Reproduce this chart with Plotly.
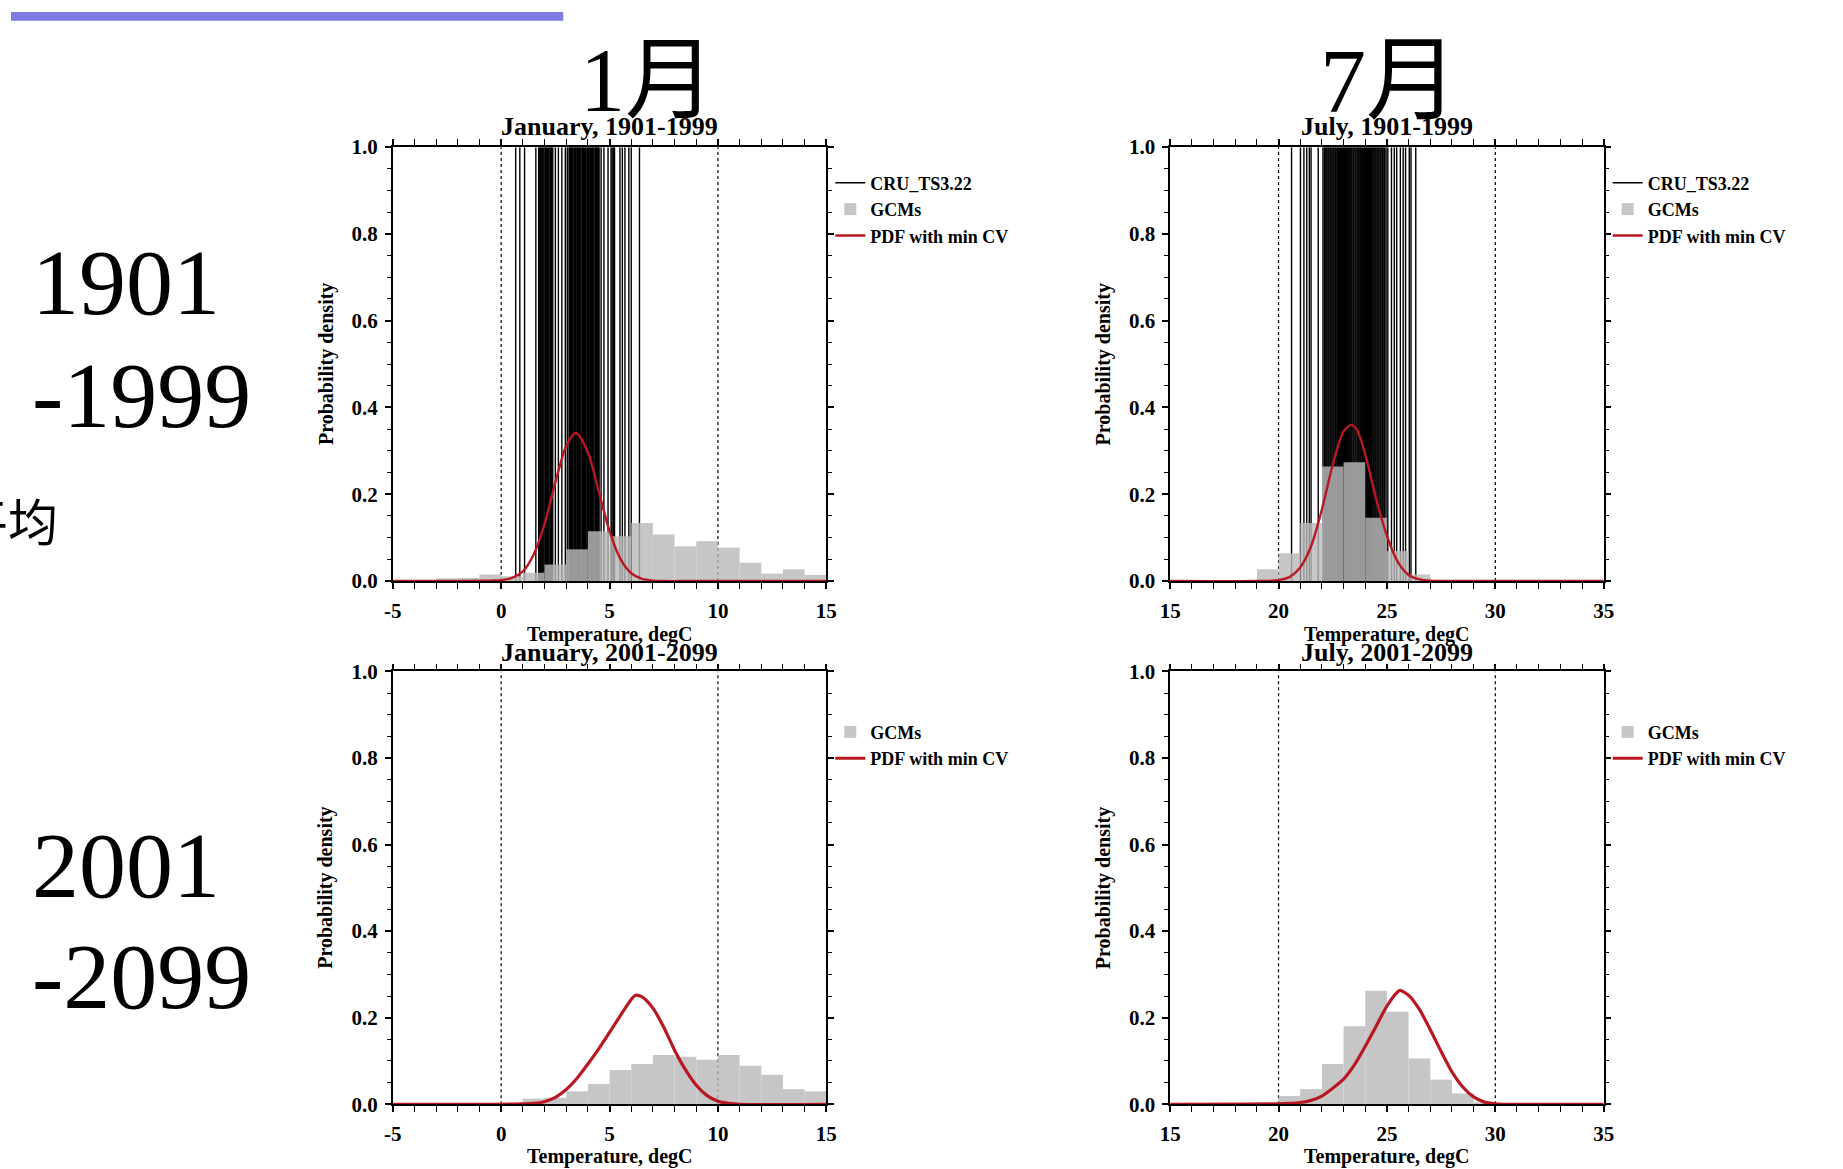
import plotly.graph_objects as go

W, H = 1843, 1169
# the page is captured with an 8 px outer margin and then scaled back to the window size
SX, SY = W / (W + 16), H / (H + 16)

# ---------------- data ----------------
jan_bin_left = [-5, -4, -3, -2, -1, 0, 1, 2, 3, 4, 5, 6, 7, 8, 9, 10, 11, 12, 13, 14]
jan_1901_gcm = [0.002, 0.002, 0.006, 0.007, 0.015, 0.011, 0.019, 0.038, 0.073, 0.115,
                0.103, 0.134, 0.107, 0.080, 0.092, 0.077, 0.042, 0.017, 0.027, 0.014]
jan_2001_gcm = [0.0, 0.0, 0.0, 0.0, 0.001, 0.002, 0.013, 0.015, 0.030, 0.047,
                0.079, 0.093, 0.114, 0.110, 0.103, 0.114, 0.089, 0.068, 0.035, 0.030]

jul_bin_left = [15, 16, 17, 18, 19, 20, 21, 22, 23, 24, 25, 26, 27, 28, 29, 30, 31, 32, 33, 34]
jul_1901_gcm = [0.0, 0.0, 0.0, 0.0, 0.027, 0.064, 0.134, 0.264, 0.274, 0.146,
                0.069, 0.015, 0.0, 0.0, 0.0, 0.0, 0.0, 0.0, 0.0, 0.0]
jul_2001_gcm = [0.0, 0.0, 0.0, 0.0, 0.0, 0.019, 0.035, 0.093, 0.180, 0.262,
                0.214, 0.106, 0.057, 0.025, 0.003, 0.0, 0.0, 0.0, 0.0, 0.0]

jan_1901_cru = [0.67, 0.86, 1.08, 1.60, 1.73, 1.78, 1.81, 1.85, 1.90, 1.93, 1.97, 2.02, 2.05,
                2.09, 2.14, 2.17, 2.21, 2.26, 2.29, 2.33, 2.38, 2.50, 2.64, 2.80, 2.96, 3.05,
                3.13, 3.16, 3.20, 3.25, 3.28, 3.32, 3.37, 3.40, 3.44, 3.49, 3.52, 3.56, 3.61,
                3.64, 3.68, 3.73, 3.76, 3.80, 3.85, 3.88, 3.92, 3.97, 4.00, 4.04, 4.09, 4.12,
                4.16, 4.21, 4.24, 4.28, 4.33, 4.36, 4.40, 4.45, 4.48, 4.52, 4.61, 4.74, 4.93,
                5.07, 5.12, 5.18, 5.23, 5.48, 5.59, 5.71, 5.89, 6.00, 6.38]
jul_1901_cru = [20.60, 21.01, 21.17, 21.30, 21.42, 21.50, 21.83, 22.05, 22.11, 22.15, 22.20,
                22.24, 22.29, 22.33, 22.38, 22.42, 22.46, 22.51, 22.55, 22.60, 22.64, 22.69,
                22.73, 22.77, 22.82, 22.86, 22.91, 22.95, 23.00, 23.04, 23.08, 23.13, 23.17,
                23.22, 23.26, 23.31, 23.35, 23.39, 23.44, 23.48, 23.53, 23.57, 23.62, 23.66,
                23.70, 23.75, 23.79, 23.84, 23.88, 23.93, 23.97, 24.01, 24.06, 24.10, 24.15,
                24.19, 24.24, 24.28, 24.32, 24.37, 24.41, 24.46, 24.50, 24.55, 24.59, 24.63,
                24.68, 24.72, 24.77, 24.81, 24.86, 24.90, 24.96, 25.04, 25.21, 25.34, 25.45,
                25.62, 25.75, 25.86, 26.03, 26.11, 26.33]

jan_1901_pdf_x = [-5, -2, -1, -0.5, 0, 0.5, 1, 1.5, 2, 2.5, 3, 3.45, 4, 4.5, 5, 5.5, 6, 6.5, 7, 7.5, 9, 15]
jan_1901_pdf_y = [0, 0, 0.0005, 0.001, 0.002, 0.007, 0.022, 0.061, 0.131, 0.227, 0.311, 0.341,
                  0.297, 0.207, 0.115, 0.051, 0.018, 0.005, 0.001, 0, 0, 0]
jul_1901_pdf_x = [15, 19, 20, 20.5, 21, 21.5, 22, 22.5, 23, 23.35, 23.6, 24, 24.5, 25, 25.5, 26, 26.5, 27, 28, 35]
jul_1901_pdf_y = [0, 0, 0.002, 0.009, 0.031, 0.080, 0.165, 0.268, 0.345, 0.360, 0.350, 0.292,
                  0.190, 0.104, 0.044, 0.014, 0.004, 0.001, 0, 0]
jan_2001_pdf_x = [-5, 0, 1, 1.5, 2, 2.5, 3, 3.5, 4, 4.5, 5, 5.5, 6, 6.2, 6.5, 7, 7.5, 8, 8.5,
                  9, 9.5, 10, 10.5, 11, 15]
jan_2001_pdf_y = [0, 0, 0.001, 0.002, 0.006, 0.016, 0.034, 0.060, 0.093, 0.128, 0.166, 0.205,
                  0.242, 0.252, 0.248, 0.222, 0.178, 0.125, 0.080, 0.044, 0.020, 0.007, 0.002, 0, 0]
jul_2001_pdf_x = [15, 20, 20.5, 21, 21.5, 22, 22.5, 23, 23.5, 24, 24.5, 25, 25.5, 25.6, 26,
                  26.5, 27, 27.5, 28, 28.5, 29, 29.5, 30, 30.5, 35]
jul_2001_pdf_y = [0, 0.001, 0.002, 0.004, 0.009, 0.019, 0.037, 0.058, 0.091, 0.134, 0.180,
                  0.227, 0.260, 0.263, 0.252, 0.219, 0.172, 0.122, 0.075, 0.040, 0.017, 0.005,
                  0.001, 0, 0]

jan_ref_lines = [0, 10]
jul_ref_lines = [20, 30]

jan_range = [-5, 15]
jul_range = [15, 35]
jan_tick_vals = [-5, 0, 5, 10, 15]
jan_tick_text = ["-5", "0", "5", "10", "15"]
jul_tick_vals = [15, 20, 25, 30, 35]
jul_tick_text = ["15", "20", "25", "30", "35"]
y_tick_vals = [0, 0.2, 0.4, 0.6, 0.8, 1.0]
y_tick_text = ["0.0", "0.2", "0.4", "0.6", "0.8", "1.0"]

panel_titles = ["January, 1901-1999", "July, 1901-1999", "January, 2001-2099", "July, 2001-2099"]
month_labels = ["1月", "7月"]
period_labels = [["1901", "-1999"], ["2001", "-2099"]]
side_label = "平均"
x_title = "Temperature, degC"
y_title = "Probability density"
legend_names = ["CRU_TS3.22", "GCMs", "PDF with min CV"]

# ---------------- layout helpers (screen pixel -> paper) ----------------
def px(x):
    return (x / SX - 8) / W


def py(y):
    return 1 - (y / SY - 8) / H


col_px = [(391, 826), (1171, 1606)]
row_px = [(144, 581), (672, 1108)]
title_y = [123, 652.5]
xtitle_top = [621.3, 1147.3]
legend_top = [161.5, 714.6]

SERIF = "Liberation Serif, Times New Roman, serif"
CJK = "Liberation Serif, Noto Sans CJK JP, Noto Sans CJK SC, serif"
RED = "rgb(185,24,34)"
GREY = "rgb(186,186,186)"

panels = [
    dict(row=0, col=0, rng=jan_range, tv=jan_tick_vals, tt=jan_tick_text, ref=jan_ref_lines,
         bins=jan_bin_left, gcm=jan_1901_gcm, cru=jan_1901_cru, px_=jan_1901_pdf_x, py_=jan_1901_pdf_y, lw=2.4),
    dict(row=0, col=1, rng=jul_range, tv=jul_tick_vals, tt=jul_tick_text, ref=jul_ref_lines,
         bins=jul_bin_left, gcm=jul_1901_gcm, cru=jul_1901_cru, px_=jul_1901_pdf_x, py_=jul_1901_pdf_y, lw=2.4),
    dict(row=1, col=0, rng=jan_range, tv=jan_tick_vals, tt=jan_tick_text, ref=jan_ref_lines,
         bins=jan_bin_left, gcm=jan_2001_gcm, cru=None, px_=jan_2001_pdf_x, py_=jan_2001_pdf_y, lw=3.2),
    dict(row=1, col=1, rng=jul_range, tv=jul_tick_vals, tt=jul_tick_text, ref=jul_ref_lines,
         bins=jul_bin_left, gcm=jul_2001_gcm, cru=None, px_=jul_2001_pdf_x, py_=jul_2001_pdf_y, lw=3.2),
]

fig = go.Figure()
layout = dict(
    width=W, height=H, margin=dict(l=0, r=0, t=0, b=0),
    paper_bgcolor="white", plot_bgcolor="rgba(0,0,0,0)",
    barmode="overlay", showlegend=True,
    font=dict(family=SERIF, color="black"),
)
annotations = []
tick_font = dict(family=SERIF, size=21, color="black", weight="bold")

for i, p in enumerate(panels, start=1):
    x0, x1 = col_px[p["col"]]
    y0, y1 = row_px[p["row"]]
    r = p["row"]
    xa = "x" if i == 1 else f"x{i}"
    ya = "y" if i == 1 else f"y{i}"
    ya2 = f"y{i + 4}"
    leg = "legend" if i == 1 else f"legend{i}"

    # dotted reference lines
    dx, dy = [], []
    for v in p["ref"]:
        dx += [v, v, None]
        dy += [0, 1, None]
    fig.add_trace(go.Scatter(x=dx, y=dy, mode="lines", xaxis=xa, yaxis=ya, showlegend=False,
                             line=dict(color="black", width=1.2, dash="dot"), hoverinfo="skip"))
    # observed years (vertical lines)
    if p["cru"] is not None:
        cx, cy = [], []
        for v in p["cru"]:
            cx += [v, v, None]
            cy += [0, 1, None]
        fig.add_trace(go.Scatter(x=cx, y=cy, mode="lines", xaxis=xa, yaxis=ya, name=legend_names[0],
                                 legend=leg, line=dict(color="black", width=1.4)))
    # GCM histogram (overlay axis, drawn above the lines)
    fig.add_trace(go.Bar(x=p["bins"], y=p["gcm"], offset=0, width=1, xaxis=xa, yaxis=ya2,
                         name=legend_names[1], legend=leg, opacity=0.82,
                         marker=dict(color=GREY, line=dict(width=0))))
    # PDF curve
    fig.add_trace(go.Scatter(x=p["px_"], y=p["py_"], mode="lines", xaxis=xa, yaxis=ya2,
                             name=legend_names[2], legend=leg,
                             line=dict(color=RED, width=p["lw"], shape="spline", smoothing=0.8)))

    axis_common = dict(showgrid=False, zeroline=False, showline=True, linecolor="black", linewidth=1.5,
                       mirror="allticks", ticks="outside", ticklen=6, tickwidth=1.5, tickcolor="black",
                       tickfont=tick_font)
    layout["xaxis" if i == 1 else f"xaxis{i}"] = dict(
        axis_common, domain=[px(x0), px(x1)], anchor=ya, range=p["rng"],
        tickmode="array", tickvals=p["tv"], ticktext=p["tt"], ticklabelstandoff=4,
        minor=dict(ticks="outside", ticklen=4, tickwidth=1.2, tickcolor="black", dtick=1, tick0=0))
    layout["yaxis" if i == 1 else f"yaxis{i}"] = dict(
        axis_common, domain=[py(y1), py(y0)], anchor=xa, range=[0, 1],
        tickmode="array", tickvals=y_tick_vals, ticktext=y_tick_text, ticklabelstandoff=3,
        minor=dict(ticks="outside", ticklen=4, tickwidth=1.2, tickcolor="black", dtick=0.05, tick0=0))
    layout[f"yaxis{i + 4}"] = dict(overlaying=ya, anchor=xa, range=[0, 1], visible=False,
                                   showgrid=False, zeroline=False)

    # legend
    layout[leg] = dict(x=px(x1 + 4), y=py(legend_top[r]), xanchor="left", yanchor="top",
                       bgcolor="rgba(0,0,0,0)", borderwidth=0, tracegroupgap=0,
                       font=dict(family=SERIF, size=18, color="black", weight="bold"),
                       itemwidth=30)

    cx_ = (x0 + x1) / 2
    annotations.append(dict(text=panel_titles[i - 1], x=px(cx_), y=py(title_y[r]), xref="paper", yref="paper",
                            showarrow=False, xanchor="center", yanchor="middle",
                            font=dict(family=SERIF, size=26, color="black", weight="bold")))
    annotations.append(dict(text=x_title, x=px(cx_), y=py(xtitle_top[r]), xref="paper", yref="paper",
                            showarrow=False, xanchor="center", yanchor="top",
                            font=dict(family=SERIF, size=20, color="black", weight="bold")))
    annotations.append(dict(text=y_title, x=px(x0 - 67), y=py((y0 + y1) / 2), xref="paper", yref="paper",
                            showarrow=False, xanchor="center", yanchor="middle", textangle=-90,
                            font=dict(family=SERIF, size=20, color="black", weight="bold")))

# month headings
for lab, cx_, fs in zip(month_labels, [646.7, 1390.8], [90, 92]):
    annotations.append(dict(text=lab, x=px(cx_), y=py(76.9), xref="paper", yref="paper", showarrow=False,
                            xanchor="center", yanchor="middle", font=dict(family=CJK, size=fs, color="black")))
# period labels
for (l1, l2), (yc1, yc2) in zip(period_labels, [(279.5, 394), (867, 979)]):
    annotations.append(dict(text=l1, x=px(26.7), y=py(yc1), xref="paper", yref="paper", showarrow=False,
                            xanchor="left", yanchor="middle", font=dict(family=SERIF, size=94, color="black")))
    annotations.append(dict(text=l2, x=px(26.7), y=py(yc2), xref="paper", yref="paper", showarrow=False,
                            xanchor="left", yanchor="middle", font=dict(family=SERIF, size=94, color="black")))
annotations.append(dict(text=side_label, x=px(57.2), y=py(519), xref="paper", yref="paper", showarrow=False,
                        xanchor="right", yanchor="middle",
                        font=dict(family="Noto Sans CJK SC, Noto Sans CJK JP", size=50, color="black")))
layout["annotations"] = annotations

layout["shapes"] = [dict(type="rect", xref="paper", yref="paper", x0=0, x1=px(562), y0=1 - 9 / H, y1=1,
                         fillcolor="#7B7BE0", line=dict(width=0), layer="above")]

fig.update_layout(**layout)
fig.write_html("out.html", config={"displayModeBar": False},
               post_script="document.body.style.margin='0';document.body.style.overflow='hidden';")
